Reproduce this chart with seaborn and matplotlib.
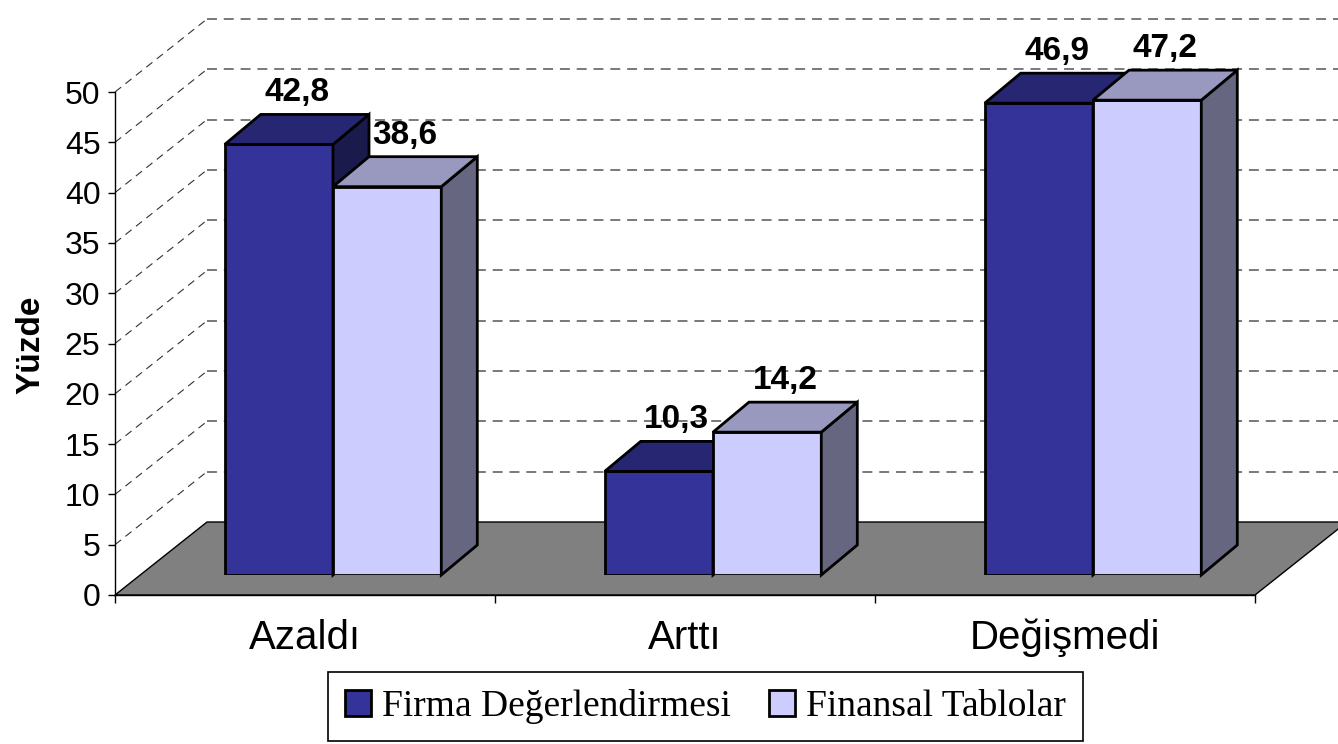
import numpy as np
import pandas as pd
import matplotlib
matplotlib.use("Agg")
import matplotlib.pyplot as plt
import seaborn as sns
from matplotlib.patches import Polygon, Patch
from matplotlib.colors import to_rgb

# ---------------- data ----------------
categories = ["Azaldı", "Arttı", "Değişmedi"]
series_names = ["Firma Değerlendirmesi", "Finansal Tablolar"]
firma_values = [42.8, 10.3, 46.9]
finansal_values = [38.6, 14.2, 47.2]
y_ticks = [0, 5, 10, 15, 20, 25, 30, 35, 40, 45, 50]
y_label = "Yüzde"
series_colors = ["#333399", "#CCCCFF"]

df = pd.DataFrame({
    "Kategori": categories * 2,
    "Seri": [series_names[0]] * len(categories) + [series_names[1]] * len(categories),
    "Yüzde": firma_values + finansal_values,
})

# ---------------- style ----------------
sns.set_theme(style="white")
plt.rcParams["font.family"] = ["Liberation Sans", "DejaVu Sans"]
plt.rcParams["text.color"] = "black"
plt.rcParams["axes.labelcolor"] = "black"

W, H = 1338, 744
DPI = 100
fig = plt.figure(figsize=(W / DPI, H / DPI), dpi=DPI)
fig.patch.set_facecolor("white")


def fx(px):
    return px / W


def fy(py):
    return 1 - py / H


# geometry of the pseudo-3D scene (pixels)
FLOOR_DX, FLOOR_DY = 92, 73      # depth of the floor / back wall
BAR_DX, BAR_DY = 36, 30          # depth of each bar
BAR_SHIFT_X, BAR_SHIFT_Y = 28, 20  # bars stand a bit behind the front plane
EDGE_LW = 2.0

# main (front-plane) axes
ax = fig.add_axes([fx(115), fy(595), (1255 - 115) / W, (595 - 92) / H])
ax.set_xlim(-0.5, len(categories) - 0.5)
ax.set_ylim(0, 50)
ax.patch.set_alpha(0)
ax.grid(False)

inv = fig.transFigure.inverted()


def pt(axis, xd, yd, dx=0.0, dy=0.0):
    p = axis.transData.transform((xd, yd)) + np.array([dx, dy])
    return inv.transform(p)


xmin, xmax = ax.get_xlim()

# back wall gridlines (horizontal, dashed) and side-wall diagonals
for v in y_ticks[1:]:
    a = pt(ax, xmin, v, FLOOR_DX, FLOOR_DY)
    b = pt(ax, xmax + 0.2, v, FLOOR_DX, FLOOR_DY)
    ax.plot([a[0], b[0]], [a[1], b[1]], transform=fig.transFigure, clip_on=False,
            color="#555555", lw=1.1, ls=(0, (6.5, 4.5)), zorder=0.5)
    c = pt(ax, xmin, v)
    ax.plot([c[0], a[0]], [c[1], a[1]], transform=fig.transFigure, clip_on=False,
            color="#333333", lw=0.8, ls=(0, (7, 5)), zorder=0.5)

# floor
floor = [pt(ax, xmin, 0), pt(ax, xmax, 0),
         pt(ax, xmax, 0, FLOOR_DX, FLOOR_DY), pt(ax, xmin, 0, FLOOR_DX, FLOOR_DY)]
ax.add_patch(Polygon(floor, closed=True, transform=fig.transFigure, clip_on=False,
                     facecolor="#808080", edgecolor="black", lw=1.0, zorder=1))

# axes cosmetics
for s in ["top", "right"]:
    ax.spines[s].set_visible(False)
for s in ["left", "bottom"]:
    ax.spines[s].set_color("black")
    ax.spines[s].set_linewidth(1.0)
ax.set_yticks(y_ticks)
ax.set_yticklabels([str(t) for t in y_ticks])
ax.set_xticks(range(len(categories)))
ax.set_xticklabels(categories)
ax.set_xticks([i - 0.5 for i in range(len(categories) + 1)], minor=True)
ax.tick_params(axis="x", which="major", bottom=True, length=0, pad=17, labelsize=29,
               labelcolor="black")
ax.tick_params(axis="x", which="minor", bottom=True, length=6, width=1, color="black",
               direction="out")
ax.tick_params(axis="y", which="major", left=True, length=5, width=1, color="black",
               direction="out", pad=5.5, labelsize=23, labelcolor="black")
ax.set_xlabel("")
ax.set_ylabel(y_label, fontsize=24, fontweight="bold", color="black", va="center")
ax.yaxis.set_label_coords((31 - 115) / 1140, 0.497)

# bars axes (shifted back into depth)
ax2 = fig.add_axes([fx(115 + BAR_SHIFT_X), fy(595 - BAR_SHIFT_Y),
                    (1255 - 115) / W, (595 - 92) / H])
sns.barplot(data=df, x="Kategori", y="Yüzde", hue="Seri", order=categories,
            hue_order=series_names, palette=series_colors, saturation=1,
            width=0.57, edgecolor="black", linewidth=EDGE_LW, ax=ax2, legend=False)
ax2.set_xlim(xmin, xmax)
ax2.set_ylim(0, 50)
ax2.axis("off")

legend_handles = []
for i, cont in enumerate(ax2.containers):
    base = None
    for bar in cont:
        fc = np.array(to_rgb(bar.get_facecolor()))
        base = fc
        bar.set_zorder(2 + 2 * i)
        bar.set_joinstyle("miter")
        x0, w, h = bar.get_x(), bar.get_width(), bar.get_height()
        top = [pt(ax2, x0, h), pt(ax2, x0 + w, h),
               pt(ax2, x0 + w, h, BAR_DX, BAR_DY), pt(ax2, x0, h, BAR_DX, BAR_DY)]
        side = [pt(ax2, x0 + w, 0), pt(ax2, x0 + w, 0, BAR_DX, BAR_DY),
                pt(ax2, x0 + w, h, BAR_DX, BAR_DY), pt(ax2, x0 + w, h)]
        ax2.add_patch(Polygon(side, closed=True, transform=fig.transFigure, clip_on=False,
                              facecolor=fc * 0.5, edgecolor="black", lw=EDGE_LW,
                              joinstyle="miter", zorder=2.5 + 2 * i))
        ax2.add_patch(Polygon(top, closed=True, transform=fig.transFigure, clip_on=False,
                              facecolor=fc * 0.75, edgecolor="black", lw=EDGE_LW,
                              joinstyle="miter", zorder=2.6 + 2 * i))
        ax2.annotate(f"{h:.1f}".replace(".", ","), xy=(x0 + w / 2, h),
                     xytext=(BAR_DX / 2, BAR_DY + 13), textcoords="offset pixels",
                     ha="center", va="baseline", fontsize=24, fontweight="bold",
                     color="black", zorder=10, annotation_clip=False)
    legend_handles.append(Patch(facecolor=base, edgecolor="black", lw=EDGE_LW))

leg = fig.legend(legend_handles, series_names, loc="upper center",
                 bbox_to_anchor=(fx(705.5), fy(672)), ncol=2,
                 prop={"family": "Liberation Serif", "size": 27},
                 frameon=True, fancybox=False, framealpha=1, edgecolor="black",
                 borderpad=0.45, handlelength=0.7, handleheight=0.7,
                 handletextpad=0.3, columnspacing=1.0, borderaxespad=0,
                 labelcolor="black")
leg.get_frame().set_linewidth(1.2)

fig.savefig("out.png", dpi=DPI, facecolor="white")
